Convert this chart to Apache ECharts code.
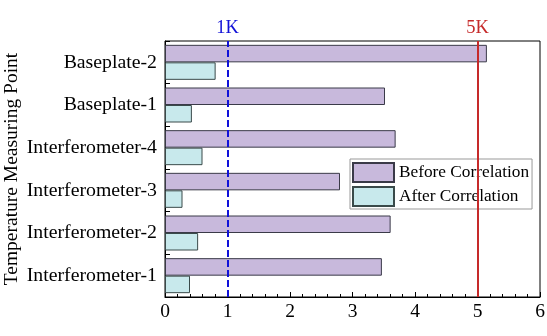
<!DOCTYPE html>
<html>
<head>
<meta charset="utf-8">
<script src="https://cdn.jsdelivr.net/npm/echarts@6/dist/echarts.min.js"></script>
<style>html,body{margin:0;padding:0;background:#fff}#chart{width:547px;height:336px}</style>
</head>
<body>
<div id="chart"></div>
<script>
// Measuring points, bottom to top
const categories = ['Interferometer-1', 'Interferometer-2', 'Interferometer-3', 'Interferometer-4', 'Baseplate-1', 'Baseplate-2'];
const beforeCorrelation = [3.47, 3.61, 2.80, 3.69, 3.52, 5.15];
const afterCorrelation = [0.40, 0.53, 0.28, 0.60, 0.43, 0.81];
const xTicks = [0, 1, 2, 3, 4, 5, 6];
const thresholds = [{ value: 1, label: '1K' }, { value: 5, label: '5K' }];

const serif = '"Liberation Serif", "DejaVu Serif", serif';
const chart = echarts.init(document.getElementById('chart'));

chart.setOption({
  animation: false,
  backgroundColor: '#fff',
  textStyle: { fontFamily: serif },
  grid: {
    left: 165, right: 7, top: 41, bottom: 39,
    outerBoundsMode: 'none', containLabel: false,
    show: true, borderColor: '#000', borderWidth: 1, backgroundColor: 'transparent'
  },
  legend: {
    data: ['Before Correlation', 'After Correlation'],
    orient: 'vertical',
    left: 350, top: 159,
    icon: 'rect',
    itemWidth: 41, itemHeight: 19, itemGap: 3,
    padding: [3, 3, 2, 2],
    borderColor: '#999', borderWidth: 1,
    textStyle: { fontFamily: serif, fontSize: 17.3, color: '#000' }
  },
  xAxis: {
    type: 'value',
    min: xTicks[0], max: xTicks[xTicks.length - 1], interval: 1,
    axisLine: { show: true, lineStyle: { color: '#000', width: 1 } },
    axisTick: { show: true, inside: true, length: 5, lineStyle: { color: '#000' } },
    minorTick: { show: true, splitNumber: 5, length: 3, lineStyle: { color: '#000' } },
    splitLine: { show: false },
    axisLabel: { fontFamily: serif, fontSize: 19.5, color: '#000', margin: 5 }
  },
  yAxis: {
    type: 'category',
    data: categories,
    name: 'Temperature Measuring Point',
    nameLocation: 'middle',
    nameGap: 143,
    nameMoveOverlap: false,
    nameTextStyle: { fontFamily: serif, fontSize: 19.5, color: '#000' },
    axisLine: { show: true, lineStyle: { color: '#000', width: 1 } },
    axisTick: { show: true, inside: true, length: 5, lineStyle: { color: '#000' } },
    axisLabel: { fontFamily: serif, fontSize: 19.8, color: '#000', margin: 8 }
  },
  series: [
    {
      // reference lines drawn beneath the bars
      type: 'line', data: [], z: 1, silent: true,
      markLine: {
        symbol: 'none', silent: true, animation: false,
        data: [
          { xAxis: thresholds[0].value, lineStyle: { color: '#1010d8', width: 2, type: [7, 3] },
            label: { formatter: thresholds[0].label, color: '#1010d8' } },
          { xAxis: thresholds[1].value, lineStyle: { color: '#c62a2a', width: 2, type: 'solid' },
            label: { formatter: thresholds[1].label, color: '#c62a2a' } }
        ],
        label: { show: true, position: 'end', fontFamily: serif, fontSize: 18.5, distance: 3 }
      }
    },
    {
      name: 'Before Correlation', type: 'bar', z: 3,
      data: beforeCorrelation, barWidth: 17.5, barGap: '0%',
      itemStyle: { color: '#c8b9dc', borderColor: '#3a3a48', borderWidth: 1 }
    },
    {
      name: 'After Correlation', type: 'bar', z: 3,
      data: afterCorrelation, barWidth: 17.5, barGap: '0%',
      itemStyle: { color: '#c8e9ec', borderColor: '#3a4a4a', borderWidth: 1 }
    }
  ]
});
</script>
</body>
</html>
